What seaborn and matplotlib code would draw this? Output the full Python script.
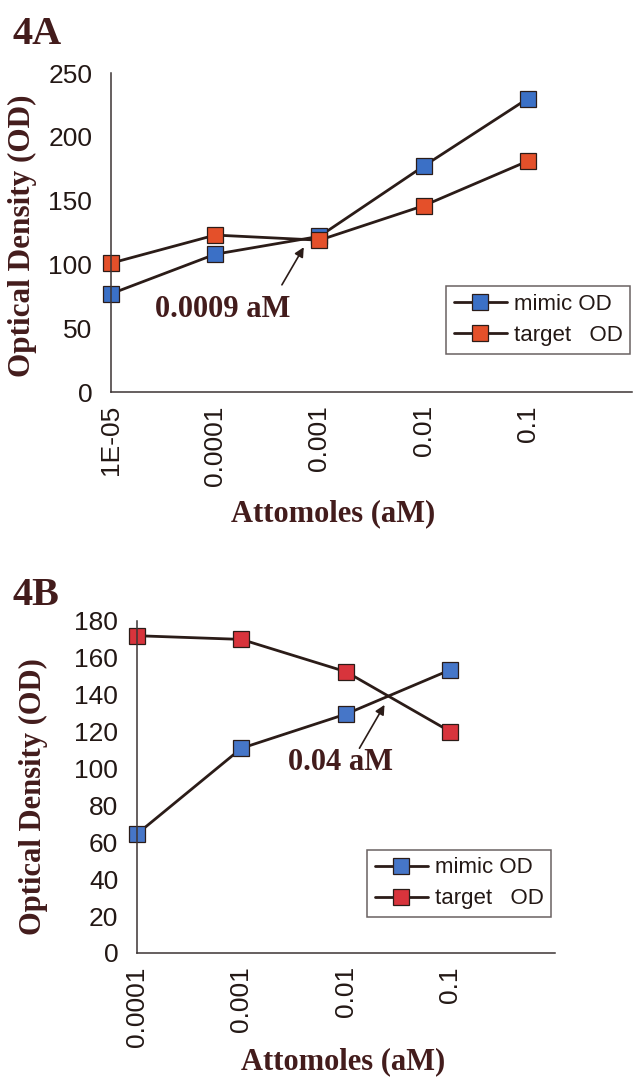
import matplotlib
matplotlib.use("Agg")
import matplotlib.pyplot as plt
import seaborn as sns

# --- data ---
labels_a = ['1E-05', '0.0001', '0.001', '0.01', '0.1']
mimic_a = [77, 108, 122, 177, 230]
target_a = [101, 123, 119, 146, 181]

labels_b = ['0.0001', '0.001', '0.01', '0.1']
mimic_b = [64.5, 111, 129.5, 153.5]
target_b = [172, 170, 152.5, 120]

# --- style ---
sns.set_style('white')
plt.rcParams['font.family'] = ['Liberation Sans', 'DejaVu Sans']

dark = '#2b1c18'
axis_col = '#3c3434'
serif_col = '#431c1c'
serif = ['Liberation Serif', 'DejaVu Serif']

fig = plt.figure(figsize=(6.33, 10.79), dpi=100)
ax_a = fig.add_axes([0.1754, 0.6367, 0.823, 0.2956])
ax_b = fig.add_axes([0.2164, 0.1168, 0.660, 0.3077])


def draw_panel(ax, labels, mimic, target, blue, red, ymax, ystep, ylab_size):
    pos = list(range(len(labels)))
    sns.lineplot(x=pos, y=mimic, ax=ax, color=dark, lw=2, marker='s',
                 markersize=11, markerfacecolor=blue, markeredgecolor=dark,
                 markeredgewidth=0.9, clip_on=False, label='mimic OD')
    sns.lineplot(x=pos, y=target, ax=ax, color=dark, lw=2, marker='s',
                 markersize=11, markerfacecolor=red, markeredgecolor=dark,
                 markeredgewidth=0.9, clip_on=False, label='target   OD')
    ax.set_xlim(0, len(labels))
    ax.set_ylim(0, ymax)
    ax.set_xticks(range(len(labels) + 1))
    ax.set_xticklabels(labels + [''], rotation=90)
    ax.set_yticks(range(0, ymax + 1, ystep))
    ax.tick_params(axis='both', direction='inout', length=9, width=1,
                   color=axis_col, labelsize=19, labelcolor='#231815')
    ax.tick_params(axis='y', pad=9)
    ax.tick_params(axis='x', pad=5)
    for side in ['top', 'right']:
        ax.spines[side].set_visible(False)
    for side in ['left', 'bottom']:
        ax.spines[side].set_color(axis_col)
        ax.spines[side].set_linewidth(1.1)
    ax.set_ylabel('Optical Density (OD)', family=serif, fontweight='bold',
                  fontsize=ylab_size, color=serif_col)
    ax.set_xlabel('Attomoles (aM)', family=serif, fontweight='bold',
                  fontsize=22, color=serif_col)


draw_panel(ax_a, labels_a, mimic_a, target_a, '#3b70c6', '#e4502a', 250, 50, 22.5)
draw_panel(ax_b, labels_b, mimic_b, target_b, '#4676c8', '#d8343c', 180, 20, 22)

ax_a.yaxis.set_label_coords(-0.142, 0.489)
ax_a.xaxis.set_label_coords(0.426, -0.335)
ax_b.yaxis.set_label_coords(-0.213, 0.47)
ax_b.xaxis.set_label_coords(0.493, -0.285)

leg_kw = dict(loc='lower left', borderaxespad=0, fontsize=16, frameon=True,
              fancybox=False, handlelength=2.4, handletextpad=0.3,
              labelspacing=0.45, borderpad=0.35, edgecolor='#6a6262',
              framealpha=1)
la = ax_a.legend(bbox_to_anchor=(0.643, 0.119), **leg_kw)
lb = ax_b.legend(bbox_to_anchor=(0.550, 0.108), **leg_kw)
for leg in (la, lb):
    leg.get_frame().set_linewidth(1.1)
    for t in leg.get_texts():
        t.set_color('#231815')

# panel letters
fig.text(12 / 633, 1 - 44 / 1079, '4A', family=serif, fontweight='bold',
         fontsize=29, color=serif_col)
fig.text(12 / 633, 1 - 605 / 1079, '4B', family=serif, fontweight='bold',
         fontsize=29, color=serif_col)

# crossing-point annotations
arrow = dict(arrowstyle='-|>', color=dark, lw=1.2, mutation_scale=14,
             shrinkA=0, shrinkB=0)
ax_a.text(0.42, 65, '0.0009 aM', family=serif, fontweight='bold',
          fontsize=22, color=serif_col, ha='left', va='center')
ax_a.annotate('', xy=(1.85, 113.5), xytext=(1.64, 84), arrowprops=arrow)
ax_b.text(1.445, 103, '0.04 aM', family=serif, fontweight='bold',
          fontsize=22, color=serif_col, ha='left', va='center')
ax_b.annotate('', xy=(2.37, 134.5), xytext=(2.13, 111), arrowprops=arrow)

fig.savefig('out.png', dpi=100)
